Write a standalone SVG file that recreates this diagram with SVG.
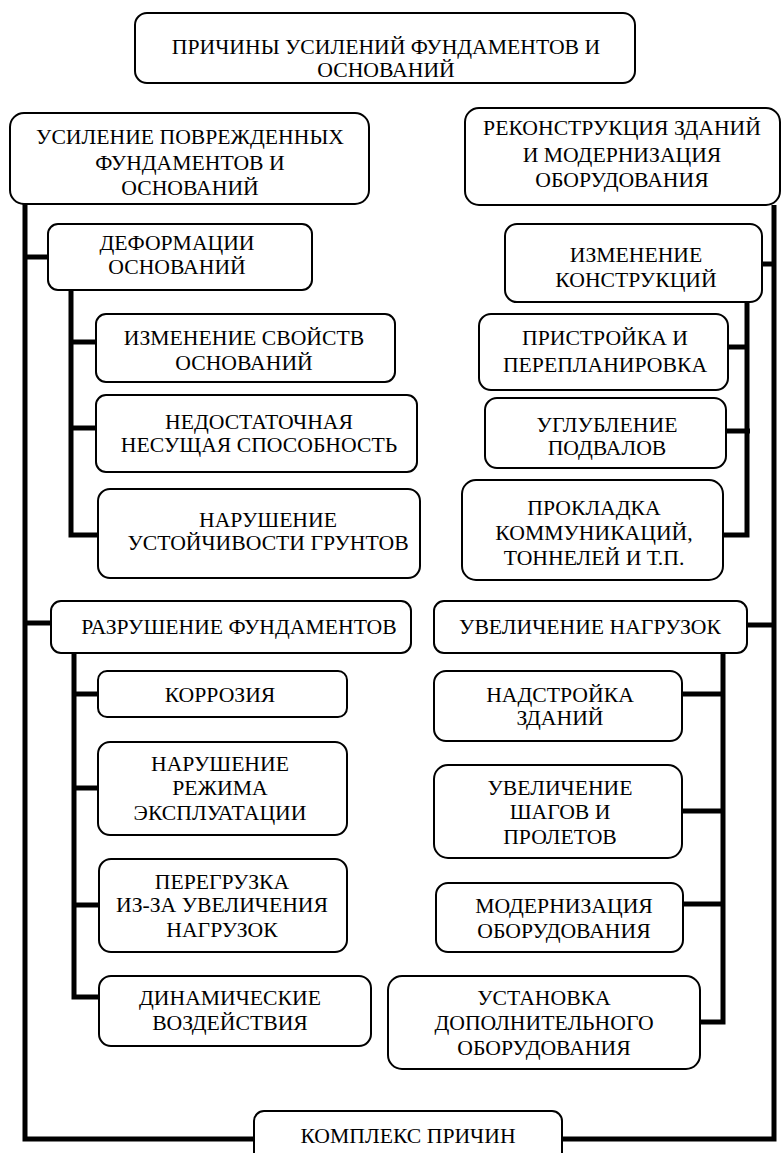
<svg xmlns="http://www.w3.org/2000/svg" width="782" height="1153" viewBox="0 0 782 1153">
<style>
.b{fill:#fff;stroke:#000;stroke-width:2}
.t{font-family:'Liberation Serif','Times New Roman',serif;font-size:21.7px;fill:#000;text-anchor:middle}
.c{fill:none;stroke:#000;stroke-width:5;stroke-linecap:butt;stroke-linejoin:miter}
</style>
<rect width="782" height="1153" fill="#fff"/>
<g id="connectors">
<path class="c" d="M25,203 V1139 H254"/>
<path class="c" d="M774,205 V1139 H562"/>
<path class="c" d="M25,257 H48"/>
<path class="c" d="M25,623 H51"/>
<path class="c" d="M762,264 H774"/>
<path class="c" d="M747,625 H774"/>
<path class="c" d="M71,290 V535 H98"/>
<path class="c" d="M71,342 H96"/>
<path class="c" d="M71,428 H96"/>
<path class="c" d="M74,653 V997 H99"/>
<path class="c" d="M74,694 H98"/>
<path class="c" d="M74,788 H98"/>
<path class="c" d="M74,905 H99"/>
<path class="c" d="M747,302 V535 H723"/>
<path class="c" d="M747,347 H728"/>
<path class="c" d="M750,431 H726"/>
<path class="c" d="M723,653 V1022 H700"/>
<path class="c" d="M723,694 H682"/>
<path class="c" d="M723,811 H682"/>
<path class="c" d="M723,904 H683"/>
</g>
<g id="n-root"><rect class="b" x="135" y="13" width="500" height="70" rx="12"/>
<text class="t" x="386" y="54">ПРИЧИНЫ УСИЛЕНИЙ ФУНДАМЕНТОВ И</text>
<text class="t" x="386" y="77">ОСНОВАНИЙ</text></g>
<g id="n-usilenie"><rect class="b" x="10" y="113" width="359" height="91" rx="14"/>
<text class="t" x="190" y="144">УСИЛЕНИЕ ПОВРЕЖДЕННЫХ</text>
<text class="t" x="190" y="170">ФУНДАМЕНТОВ И</text>
<text class="t" x="190" y="195">ОСНОВАНИЙ</text></g>
<g id="n-rekonstr"><rect class="b" x="465" y="108" width="315" height="97" rx="14"/>
<text class="t" x="622" y="135">РЕКОНСТРУКЦИЯ ЗДАНИЙ</text>
<text class="t" x="622" y="162">И МОДЕРНИЗАЦИЯ</text>
<text class="t" x="622" y="187">ОБОРУДОВАНИЯ</text></g>
<g id="n-deform"><rect class="b" x="48" y="224" width="264" height="66" rx="10"/>
<text class="t" x="177" y="250">ДЕФОРМАЦИИ</text>
<text class="t" x="177" y="274">ОСНОВАНИЙ</text></g>
<g id="n-izm-svoystv"><rect class="b" x="96" y="314" width="299" height="68" rx="10"/>
<text class="t" x="244" y="345">ИЗМЕНЕНИЕ СВОЙСТВ</text>
<text class="t" x="244" y="370">ОСНОВАНИЙ</text></g>
<g id="n-nedost"><rect class="b" x="96" y="395" width="321" height="77" rx="10"/>
<text class="t" x="259" y="429">НЕДОСТАТОЧНАЯ</text>
<text class="t" x="259" y="452">НЕСУЩАЯ СПОСОБНОСТЬ</text></g>
<g id="n-narush-ust"><rect class="b" x="98" y="489" width="322" height="89" rx="12"/>
<text class="t" x="268" y="527">НАРУШЕНИЕ</text>
<text class="t" x="268" y="550">УСТОЙЧИВОСТИ ГРУНТОВ</text></g>
<g id="n-razrush"><rect class="b" x="51" y="601" width="360" height="52" rx="10"/>
<text class="t" x="239" y="634">РАЗРУШЕНИЕ ФУНДАМЕНТОВ</text></g>
<g id="n-korroz"><rect class="b" x="98" y="671" width="249" height="46" rx="9"/>
<text class="t" x="220" y="702">КОРРОЗИЯ</text></g>
<g id="n-rezhim"><rect class="b" x="98" y="742" width="249" height="93" rx="12"/>
<text class="t" x="220" y="771">НАРУШЕНИЕ</text>
<text class="t" x="220" y="795">РЕЖИМА</text>
<text class="t" x="220" y="820">ЭКСПЛУАТАЦИИ</text></g>
<g id="n-peregruz"><rect class="b" x="99" y="859" width="248" height="93" rx="12"/>
<text class="t" x="222" y="889">ПЕРЕГРУЗКА</text>
<text class="t" x="222" y="912">ИЗ-ЗА УВЕЛИЧЕНИЯ</text>
<text class="t" x="222" y="937">НАГРУЗОК</text></g>
<g id="n-dinam"><rect class="b" x="99" y="976" width="272" height="70" rx="12"/>
<text class="t" x="230" y="1005">ДИНАМИЧЕСКИЕ</text>
<text class="t" x="230" y="1030">ВОЗДЕЙСТВИЯ</text></g>
<g id="n-izm-konstr"><rect class="b" x="505" y="224" width="257" height="78" rx="12"/>
<text class="t" x="636" y="262">ИЗМЕНЕНИЕ</text>
<text class="t" x="636" y="287">КОНСТРУКЦИЙ</text></g>
<g id="n-pristr"><rect class="b" x="479" y="314" width="249" height="76" rx="12"/>
<text class="t" x="605" y="345">ПРИСТРОЙКА И</text>
<text class="t" x="605" y="372">ПЕРЕПЛАНИРОВКА</text></g>
<g id="n-uglubl"><rect class="b" x="485" y="398" width="241" height="70" rx="12"/>
<text class="t" x="607" y="432">УГЛУБЛЕНИЕ</text>
<text class="t" x="607" y="455">ПОДВАЛОВ</text></g>
<g id="n-prokladka"><rect class="b" x="462" y="480" width="261" height="100" rx="14"/>
<text class="t" x="594" y="515">ПРОКЛАДКА</text>
<text class="t" x="594" y="540">КОММУНИКАЦИЙ,</text>
<text class="t" x="594" y="565">ТОННЕЛЕЙ И Т.П.</text></g>
<g id="n-uvel-nagr"><rect class="b" x="434" y="601" width="313" height="52" rx="10"/>
<text class="t" x="590" y="634">УВЕЛИЧЕНИЕ НАГРУЗОК</text></g>
<g id="n-nadstr"><rect class="b" x="434" y="671" width="248" height="70" rx="12"/>
<text class="t" x="560" y="702">НАДСТРОЙКА</text>
<text class="t" x="560" y="725">ЗДАНИЙ</text></g>
<g id="n-shagov"><rect class="b" x="434" y="765" width="248" height="93" rx="14"/>
<text class="t" x="560" y="795">УВЕЛИЧЕНИЕ</text>
<text class="t" x="560" y="819">ШАГОВ И</text>
<text class="t" x="560" y="844">ПРОЛЕТОВ</text></g>
<g id="n-modern"><rect class="b" x="436" y="883" width="247" height="69" rx="12"/>
<text class="t" x="564" y="913">МОДЕРНИЗАЦИЯ</text>
<text class="t" x="564" y="938">ОБОРУДОВАНИЯ</text></g>
<g id="n-ustanovka"><rect class="b" x="388" y="976" width="312" height="93" rx="14"/>
<text class="t" x="544" y="1005">УСТАНОВКА</text>
<text class="t" x="544" y="1030">ДОПОЛНИТЕЛЬНОГО</text>
<text class="t" x="544" y="1055">ОБОРУДОВАНИЯ</text></g>
<g id="n-kompleks"><rect class="b" x="254" y="1111" width="308" height="60" rx="10"/>
<text class="t" x="408" y="1143">КОМПЛЕКС ПРИЧИН</text></g>
</svg>
